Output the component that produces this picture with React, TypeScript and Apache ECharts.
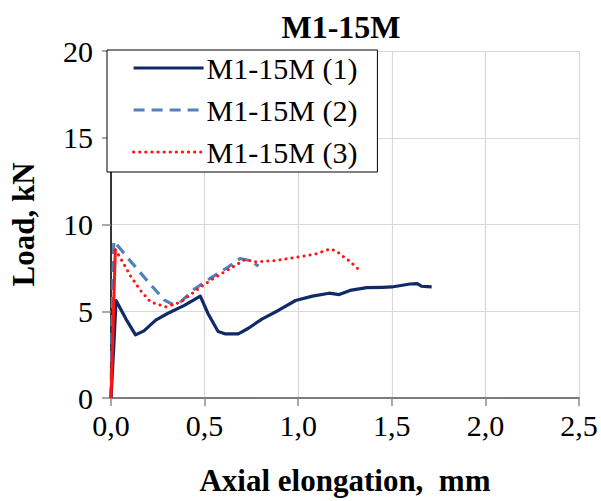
import React, { useEffect, useRef } from "react";
import * as echarts from "echarts";

// Load–elongation curves, specimen group M1-15M
const specimen1: [number, number][] = [
  [0, 0], [0.015, 3.0], [0.027, 5.62], [0.08, 4.55], [0.131, 3.64], [0.176, 3.87],
  [0.239, 4.49], [0.302, 4.87], [0.392, 5.34], [0.477, 5.87], [0.518, 4.87],
  [0.572, 3.83], [0.608, 3.7], [0.68, 3.7], [0.734, 4.02], [0.806, 4.55],
  [0.896, 5.06], [0.986, 5.62], [1.076, 5.87], [1.165, 6.04], [1.219, 5.96],
  [1.277, 6.2], [1.366, 6.36], [1.45, 6.38], [1.5, 6.4], [1.597, 6.57],
  [1.636, 6.59], [1.66, 6.44], [1.69, 6.42], [1.713, 6.4],
];
const specimen2: [number, number][] = [
  [0, 0], [0.007, 5.0], [0.015, 9.05], [0.104, 7.89], [0.194, 6.75], [0.284, 5.66],
  [0.329, 5.4], [0.365, 5.47], [0.446, 6.28], [0.536, 6.94], [0.626, 7.55],
  [0.689, 8.04], [0.743, 7.92], [0.788, 7.6],
];
const specimen3Rise: [number, number][] = [[0, 0], [0.023, 8.55]];
const specimen3: [number, number][] = [
  [0.023, 8.55], [0.05, 8.08], [0.104, 7.04], [0.158, 6.19], [0.212, 5.53],
  [0.293, 5.25], [0.374, 5.53], [0.464, 6.28], [0.554, 6.94], [0.644, 7.51],
  [0.716, 7.98], [0.77, 7.85], [0.878, 7.92], [1.022, 8.17], [1.094, 8.3],
  [1.17, 8.59], [1.206, 8.46], [1.241, 8.15], [1.277, 7.87], [1.321, 7.43],
];
const seriesNames = ["M1-15M (1)", "M1-15M (2)", "M1-15M (3)"];
const xTickLabels = ["0,0", "0,5", "1,0", "1,5", "2,0", "2,5"];

const serif = "Liberation Serif";
const NAVY = "#0f2a66";
const BLUE = "#4f81bd";
const RED = "#ff1414";

export default function App() {
  const ref = useRef<HTMLDivElement>(null);

  useEffect(() => {
    if (!ref.current) return;
    const chart = echarts.init(ref.current, null, { renderer: "svg" });
    chart.setOption({
      animation: false,
      backgroundColor: "#ffffff",
      title: {
        text: "M1-15M",
        left: 336,
        textAlign: "center",
        top: 6,
        textStyle: { fontFamily: serif, fontSize: 32, fontWeight: 700, color: "#000" },
      },
      legend: {
        orient: "vertical",
        left: 107,
        top: 50,
        data: seriesNames,
        backgroundColor: "#ffffff",
        borderColor: "#000",
        borderWidth: 1,
        borderRadius: 0,
        padding: [3, 20, 5, 25],
        itemGap: 12,
        itemWidth: 70,
        itemHeight: 14,
        itemStyle: { opacity: 0 },
        lineStyle: { width: 3.2 },
        textStyle: { fontFamily: serif, fontSize: 30, color: "#000", padding: [0, 0, 0, -2] },
      },
      grid: { left: 110, right: 22, top: 51, bottom: 98 },
      xAxis: [
        {
          type: "value",
          min: 0,
          max: 2.5,
          interval: 0.5,
          name: "Axial elongation,  mm",
          nameLocation: "middle",
          nameGap: 67,
          nameTextStyle: { fontFamily: serif, fontSize: 31, fontWeight: 700, color: "#000" },
          axisLine: { lineStyle: { color: "#8c8c8c", width: 1.5 } },
          axisTick: { show: true, length: 8, inside: false, lineStyle: { color: "#8c8c8c", width: 1.5 } },
          axisLabel: {
            margin: 12,
            fontFamily: serif,
            fontSize: 30,
            color: "#000",
            formatter: (_v: number, i: number) => xTickLabels[i] ?? "",
          },
          splitLine: { show: true, lineStyle: { color: "#d9d9d9", width: 1.2 } },
        },
        {
          type: "value",
          position: "top",
          min: 0,
          max: 2.5,
          axisLine: { show: true, lineStyle: { color: "#707070", width: 1.5 } },
          axisTick: { show: false },
          axisLabel: { show: false },
          splitLine: { show: false },
        },
      ],
      yAxis: [
        {
          type: "value",
          min: 0,
          max: 20,
          interval: 5,
          name: "Load, kN",
          nameLocation: "middle",
          nameGap: 72,
          nameTextStyle: { fontFamily: serif, fontSize: 31, fontWeight: 700, color: "#000" },
          axisLine: { show: true, lineStyle: { color: "#8c8c8c", width: 1.5 } },
          axisTick: { show: true, length: 9, inside: false, lineStyle: { color: "#8c8c8c", width: 1.5 } },
          axisLabel: { margin: 18, fontFamily: serif, fontSize: 30, color: "#000" },
          splitLine: { show: true, lineStyle: { color: "#d9d9d9", width: 1.2 } },
        },
        {
          type: "value",
          position: "right",
          min: 0,
          max: 20,
          axisLine: { show: true, lineStyle: { color: "#111", width: 1.5 } },
          axisTick: { show: false },
          axisLabel: { show: false },
          splitLine: { show: false },
        },
      ],
      series: [
        {
          name: seriesNames[0],
          type: "line",
          data: specimen1,
          showSymbol: false,
          symbol: "none",
          lineStyle: { color: NAVY, width: 3.2, join: "round" },
          itemStyle: { color: NAVY },
          z: 3,
        },
        {
          name: seriesNames[1],
          type: "line",
          data: specimen2,
          showSymbol: false,
          symbol: "none",
          lineStyle: { color: BLUE, width: 3.2, type: [11, 7] },
          itemStyle: { color: BLUE },
          z: 2,
        },
        {
          name: seriesNames[2],
          type: "line",
          data: specimen3,
          showSymbol: false,
          symbol: "none",
          lineStyle: { color: RED, width: 3, type: [0.1, 6], cap: "round" },
          itemStyle: { color: RED },
          z: 4,
        },
        {
          name: "M1-15M (3) elastic",
          type: "line",
          data: specimen3Rise,
          showSymbol: false,
          symbol: "none",
          lineStyle: { color: RED, width: 3 },
          itemStyle: { color: RED },
          z: 5,
        },
      ],
    });
    return () => chart.dispose();
  }, []);

  return (
    <div
      ref={ref}
      style={{ position: "fixed", left: 0, top: 0, width: 601, height: 501 }}
    />
  );
}
